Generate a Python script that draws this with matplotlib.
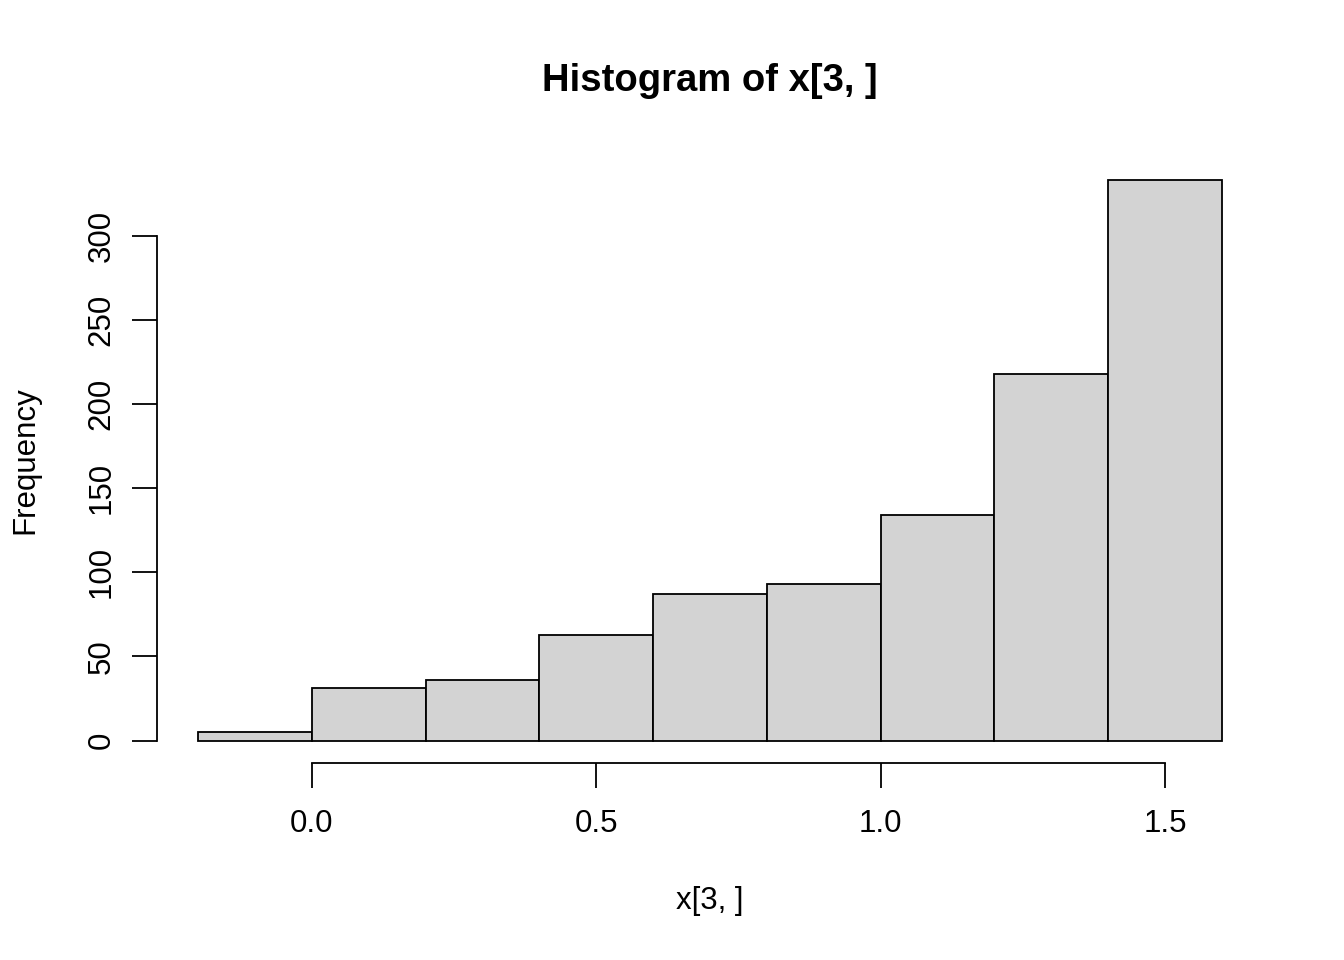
import numpy as np
import matplotlib
matplotlib.use("Agg")
import matplotlib.pyplot as plt

plt.rcParams['font.family'] = ['Liberation Sans', 'DejaVu Sans']

# histogram bins and counts
bin_edges = [-0.2, 0.0, 0.2, 0.4, 0.6, 0.8, 1.0, 1.2, 1.4, 1.6]
counts = [5, 31, 36, 63, 87, 93, 134, 218, 333]
x_ticks = [0.0, 0.5, 1.0, 1.5]
x_tick_labels = ["0.0", "0.5", "1.0", "1.5"]
y_ticks = [0, 50, 100, 150, 200, 250, 300]

title = "Histogram of x[3, ]"
xlabel = "x[3, ]"
ylabel = "Frequency"

W, H = 1344, 960
fig = plt.figure(figsize=(W / 100, H / 100), dpi=100)
ax = fig.add_axes([157 / W, 1 - 763 / H, (1263 - 157) / W, (763 - 158) / H])

edges = np.array(bin_edges)
ax.bar(edges[:-1], counts, width=np.diff(edges), align='edge',
       color='#d3d3d3', edgecolor='black', linewidth=1.3)

# R style limits: 4% padding
xr = edges[-1] - edges[0]
ax.set_xlim(edges[0] - 0.04 * xr, edges[-1] + 0.04 * xr)
yr = max(counts)
ax.set_ylim(-0.04 * yr, yr * 1.04)

for s in ['top', 'right']:
    ax.spines[s].set_visible(False)
ax.spines['left'].set_bounds(y_ticks[0], y_ticks[-1])
ax.spines['bottom'].set_bounds(x_ticks[0], x_ticks[-1])
for s in ['left', 'bottom']:
    ax.spines[s].set_linewidth(1.3)

ax.set_xticks(x_ticks)
ax.set_xticklabels(x_tick_labels)
ax.set_yticks(y_ticks)
ax.set_yticklabels([str(v) for v in y_ticks], rotation=90, va='center')
ax.tick_params(axis='both', direction='out', length=18, width=1.3,
               labelsize=22.5)
ax.tick_params(axis='x', pad=15)
ax.tick_params(axis='y', pad=11)

fig.text((157 + 1263) / 2 / W, 1 - 81 / H, title, ha='center', va='center',
         fontsize=27.5, fontweight='bold')
fig.text((157 + 1263) / 2 / W, 1 - 901 / H, xlabel, ha='center', va='center',
         fontsize=22.5)
fig.text(25 / W, 1 - 460 / H, ylabel, ha='center', va='center',
         fontsize=22.5, rotation=90)

fig.savefig("out.png", dpi=100)
